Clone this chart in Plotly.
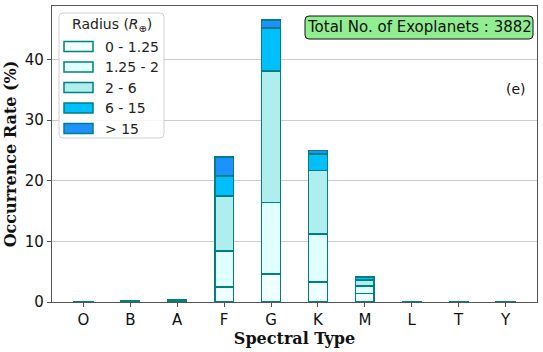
import plotly.graph_objects as go

categories = ["O", "B", "A", "F", "G", "K", "M", "L", "T", "Y"]
series_names = ["0 - 1.25", "1.25 - 2", "2 - 6", "6 - 15", "> 15"]
r_0_125 = [0.02, 0.03, 0.08, 2.5, 4.6, 3.3, 1.4, 0.02, 0.01, 0.02]
r_125_2 = [0.01, 0.03, 0.08, 5.9, 11.8, 7.9, 1.2, 0.01, 0.01, 0.01]
r_2_6 = [0.01, 0.05, 0.15, 9.1, 21.7, 10.5, 1.0, 0.01, 0.01, 0.01]
r_6_15 = [0.01, 0.02, 0.06, 3.3, 7.1, 2.7, 0.4, 0.01, 0.0, 0.01]
r_gt15 = [0.0, 0.01, 0.03, 3.1, 1.3, 0.6, 0.2, 0.0, 0.0, 0.0]
series_values = [r_0_125, r_125_2, r_2_6, r_6_15, r_gt15]
colors = ["#F0FFFF", "#E0FFFF", "#AFEEEE", "#00BFFF", "#1E90FF"]
edge = "#008080"
total_text = "Total No. of Exoplanets : 3882"

W, H = 543, 352
ML, MR, MT, MB = 52, 6, 6, 50
PW, PH = W - ML - MR, H - MT - MB

def px(x):
    return (x - ML) / PW

def py(y):
    return (H - MB - y) / PH

def rrect(x0, y0, x1, y1, r):
    X0, X1 = px(x0), px(x1)
    Yt, Yb = py(y0), py(y1)
    rx, ry = r / PW, r / PH
    return (f"M {X0+rx},{Yt} L {X1-rx},{Yt} Q {X1},{Yt} {X1},{Yt-ry} "
            f"L {X1},{Yb+ry} Q {X1},{Yb} {X1-rx},{Yb} L {X0+rx},{Yb} "
            f"Q {X0},{Yb} {X0},{Yb+ry} L {X0},{Yt-ry} Q {X0},{Yt} {X0+rx},{Yt} Z")

fig = go.Figure()
xs = list(range(len(categories)))
for name, vals, col in zip(series_names, series_values, colors):
    fig.add_trace(go.Bar(
        x=xs, y=vals, name=name, width=0.4,
        marker=dict(color=col, line=dict(color=edge, width=1.5)),
        showlegend=False,
    ))

shapes = []
annotations = []

# legend box
shapes.append(dict(type="path", xref="paper", yref="paper",
                   path=rrect(59, 13, 164, 138, 4),
                   fillcolor="rgba(255,255,255,0.85)",
                   line=dict(color="#D0D0D0", width=1), layer="above"))
annotations.append(dict(xref="paper", yref="paper", x=px(111.5), y=py(25),
                        text="Radius (<i>R</i><sub>⊕</sub>)", showarrow=False,
                        xanchor="center", yanchor="middle",
                        font=dict(family="DejaVu Sans", size=14, color="#222")))
for i, (name, col) in enumerate(zip(series_names, colors)):
    cy = 46.5 + 20.5 * i
    shapes.append(dict(type="rect", xref="paper", yref="paper",
                       x0=px(64), x1=px(93), y0=py(cy + 5), y1=py(cy - 5),
                       fillcolor=col, line=dict(color=edge, width=1.5), layer="above"))
    annotations.append(dict(xref="paper", yref="paper", x=px(103), y=py(cy),
                            text=name, showarrow=False,
                            xanchor="left", yanchor="middle",
                            font=dict(family="DejaVu Sans", size=14, color="#222")))

# total box
shapes.append(dict(type="path", xref="paper", yref="paper",
                   path=rrect(305, 16, 533, 39, 4),
                   fillcolor="#90EE90", line=dict(color="#111", width=1), layer="above"))
annotations.append(dict(xref="paper", yref="paper", x=px(419), y=py(27.5),
                        text=total_text, showarrow=False,
                        xanchor="center", yanchor="middle",
                        font=dict(family="DejaVu Sans", size=15, color="#111")))
annotations.append(dict(xref="paper", yref="paper", x=px(516), y=py(89),
                        text="(e)", showarrow=False,
                        xanchor="center", yanchor="middle",
                        font=dict(family="DejaVu Sans", size=14, color="#111")))

fig.update_layout(
    width=W, height=H,
    margin=dict(l=ML, r=MR, t=MT, b=MB),
    barmode="stack",
    plot_bgcolor="white", paper_bgcolor="white",
    shapes=shapes, annotations=annotations,
    font=dict(family="DejaVu Sans", size=15, color="#111"),
)
fig.update_xaxes(
    range=[-0.67, 9.67], tickmode="array", tickvals=xs, ticktext=categories,
    showgrid=False, showline=True, linecolor="#555", linewidth=1.2, mirror=True,
    ticks="outside", ticklen=4, tickcolor="#555",
    tickfont=dict(family="DejaVu Sans", size=15, color="#111"),
    title=dict(text="<b>Spectral Type</b>", standoff=3,
               font=dict(family="DejaVu Serif", size=16, color="#111")),
)
fig.update_yaxes(
    range=[0, 48.8], tickvals=[0, 10, 20, 30, 40],
    showgrid=True, gridcolor="#CCCCCC", gridwidth=1,
    showline=True, linecolor="#555", linewidth=1.2, mirror=True,
    ticks="outside", ticklen=4, tickcolor="#555", zeroline=False,
    tickfont=dict(family="DejaVu Sans", size=15, color="#111"),
    title=dict(text="<b>Occurrence Rate (%)</b>", standoff=4,
               font=dict(family="DejaVu Serif", size=16, color="#111")),
)

fig.write_html("out.html")
